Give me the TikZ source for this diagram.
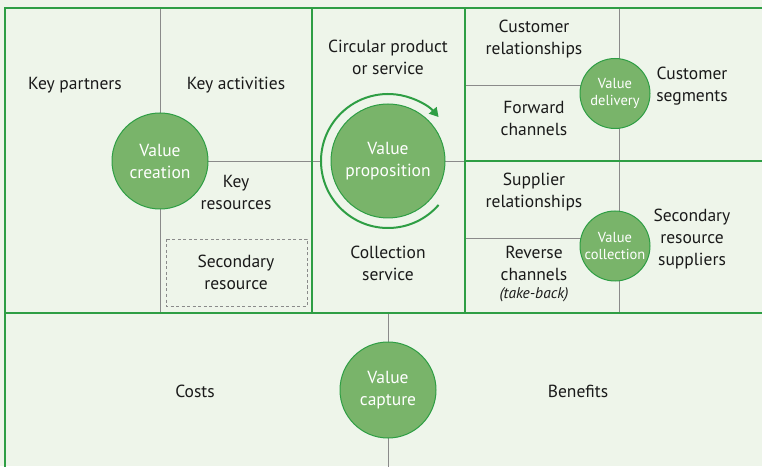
\documentclass[tikz,border=0pt]{standalone}
\usepackage{fontspec}
\setmainfont{PT Sans}
\usetikzlibrary{arrows.meta}
\definecolor{bg}{HTML}{EEF5EA}
\definecolor{grn}{HTML}{2E9E44}
\definecolor{cfill}{HTML}{79B46A}
\definecolor{gline}{HTML}{8A8A8A}
\definecolor{txt}{HTML}{1A1A1A}
\begin{document}
\begin{tikzpicture}[x=1pt,y=1pt,
  lbl/.style={align=center, font=\fontsize{17.5}{22}\selectfont, text=txt, inner sep=0pt},
  valc/.style={circle, fill=cfill, draw=grn, line width=1pt, text=white, align=center, inner sep=0pt, font=\fontsize{17.5}{22}\selectfont},
  smallc/.style={valc, font=\fontsize{14.5}{17}\selectfont},
  gl/.style={draw=gline, line width=0.9pt},
  gk/.style={draw=grn, line width=1.6pt}]
\useasboundingbox (0,0) rectangle (762,466);
\clip (0,0) rectangle (762,466);
\fill[bg] (0,0) rectangle (762,466);
% coordinates
\coordinate (cc) at (160,305);
\coordinate (pc) at (388,305);
\coordinate (dc) at (615,372.5);
\coordinate (vc) at (615,220);
\coordinate (capc) at (388,76);
\coordinate (dl) at (615,381);
\coordinate (vl) at (615,228);
% gray dividers
\draw[gl] (160,458) -- (160,153);
\draw[gl] (cc) -- (321,305);
\draw[gl] (445,305) -- (465,305);
\draw[gl] (619,458) -- (619,153);
\draw[gl] (465,381) -- (dl);
\draw[gl] (465,228) -- (vl);
\draw[gl] (388,153) -- (388,-5);
% dashed box
\draw[gline, line width=0.8pt, dash pattern=on 3pt off 2.5pt] (166,227) rectangle (307,160);
% green frame
\draw[gk] (5,-10) -- (5,458) -- (775,458);
\draw[gk] (5,153) -- (775,153);
\draw[gk] (312,458) -- (312,153);
\draw[gk] (465,458) -- (465,153);
\draw[gk] (465,305) -- (775,305);
% circles
\node[valc, minimum size=96pt] (create) at (cc) {Value\\creation};
\node[valc, minimum size=114pt] (prop) at (pc) {Value\\proposition};
\node[smallc, minimum size=70pt] (deliv) at (dc) {Value\\delivery};
\node[smallc, minimum size=70pt] (coll) at (vc) {Value\\collection};
\node[valc, minimum size=96pt] (capt) at (capc) {Value\\capture};
% ring arrow
\draw[grn, line width=2pt, -{Triangle[length=9pt,width=10pt]}] (pc) ++(-41:67) arc[start angle=-41, end angle=-319, radius=67];
% labels
\node[lbl] (kp) at (75,381) {Key partners};
\node[lbl] (ka) at (236,381) {Key activities};
\node[lbl] (kr) at (236,274) {Key\\resources};
\node[lbl] (sr) at (236,194) {Secondary\\resource};
\node[lbl] (cps) at (388,409) {Circular product\\or service};
\node[lbl] (cs) at (388,203) {Collection\\service};
\node[lbl] (cr) at (534,427) {Customer\\relationships};
\node[lbl] (fc) at (534,348) {Forward\\channels};
\node[lbl] (cseg) at (692,380) {Customer\\segments};
\node[lbl] (sup) at (534,274) {Supplier\\relationships};
\node[lbl] (rc) at (534,203) {Reverse\\channels};
\node[lbl, font=\itshape\fontsize{15.5}{16}\selectfont] (tb) at (534,171) {(take-back)};
\node[lbl] (srs) at (692,227) {Secondary\\resource\\suppliers};
\node[lbl] (costs) at (195,75) {Costs};
\node[lbl] (ben) at (578,75) {Benefits};
\end{tikzpicture}
\end{document}
